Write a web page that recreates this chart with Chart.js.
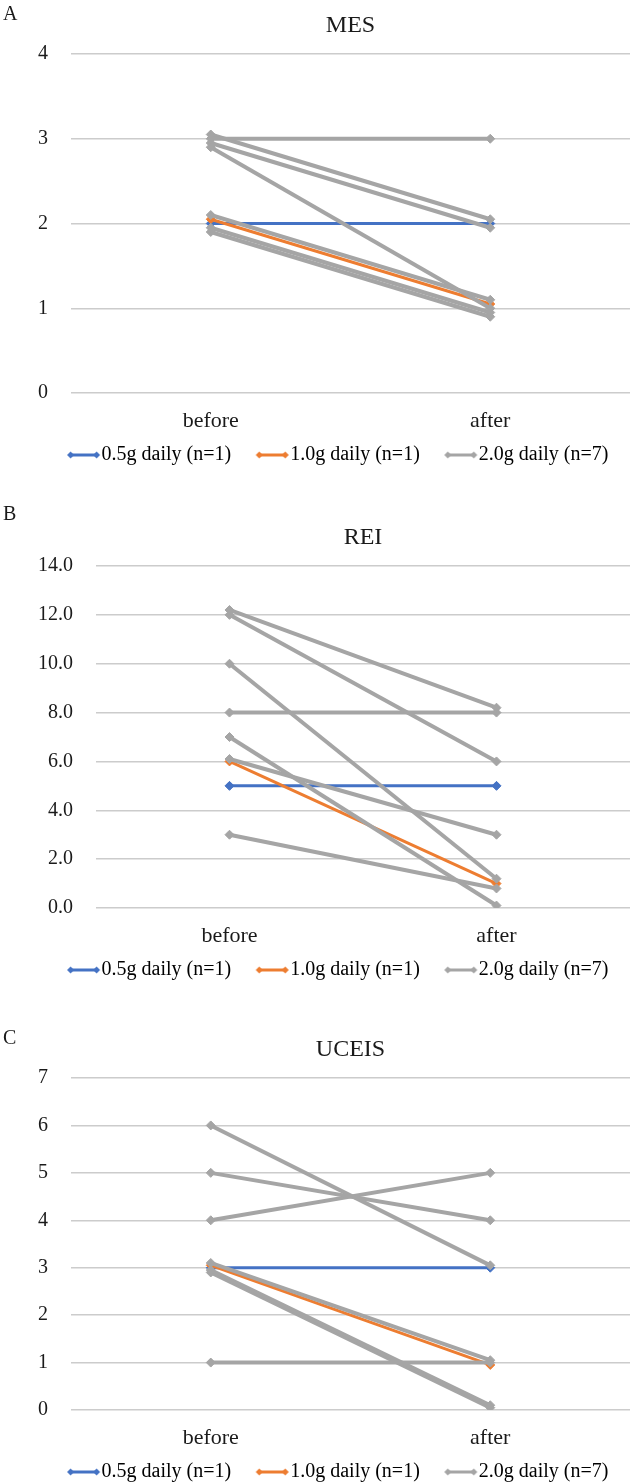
<!DOCTYPE html>
<html>
<head>
<meta charset="utf-8">
<script src="https://cdn.jsdelivr.net/npm/chart.js@4"></script>
<style>
  html, body { margin: 0; padding: 0; background: #fff; overflow: hidden; }
  #page { position: relative; width: 630px; height: 1483px; overflow: hidden; }
  .panel { position: absolute; left: 0; }
  .letter { position: absolute; left: 3px; font: 20px "Liberation Serif", serif; color: #1a1a1a; line-height: 20px; }
</style>
</head>
<body>
<div id="page">
  <canvas id="mes" class="panel" style="top:0px" width="680" height="475"></canvas>
  <canvas id="rei" class="panel" style="top:512px" width="680" height="478"></canvas>
  <canvas id="uceis" class="panel" style="top:1024px" width="680" height="468"></canvas>
  <div class="letter" style="top:3px">A</div>
  <div class="letter" style="top:503px">B</div>
  <div class="letter" style="top:1027px">C</div>
</div>
<script>
const categories = ["before", "after"];
const groupNames = ["0.5g daily (n=1)", "1.0g daily (n=1)", "2.0g daily (n=7)"];
const groupColors = ["#4472C4", "#ED7D31", "#A5A5A5"];

// MES
const mesTicks = [0, 1, 2, 3, 4];
const mes05 = [2, 2];
const mes10 = [2.05, 1.05];
const mes20 = [[3, 3], [3.05, 2.05], [2.95, 1.95], [2.9, 1.0], [2.1, 1.1], [1.95, 0.95], [1.9, 0.9]];

// REI
const reiTicks = [0, 2, 4, 6, 8, 10, 12, 14];
const rei05 = [5, 5];
const rei10 = [6, 1];
const rei20 = [[12.2, 8.2], [12, 6], [10, 1.2], [8, 8], [7, 0.1], [6.1, 3], [3, 0.8]];

// UCEIS
const uceisTicks = [0, 1, 2, 3, 4, 5, 6, 7];
const uceis05 = [3, 3];
const uceis10 = [3.05, 0.95];
const uceis20 = [[6, 3.05], [5, 4], [4, 5], [1, 1], [3.1, 1.05], [2.95, 0.1], [2.9, 0.05]];

const FONT = "'Liberation Serif', 'Times New Roman', serif";
const INK = "#1a1a1a";
const PAD_LEFT = 35;

// line-with-diamonds swatch for the legend (drawn right-shifted so it sits just before the text)
function legendIcon(color) {
  const c = document.createElement("canvas");
  c.width = 54; c.height = 10;
  const g = c.getContext("2d");
  g.strokeStyle = color; g.lineWidth = 3;
  g.beginPath(); g.moveTo(23.5, 5); g.lineTo(49.5, 5); g.stroke();
  g.fillStyle = color;
  [23.5, 49.5].forEach(x => {
    g.beginPath(); g.moveTo(x, 1.5); g.lineTo(x + 3.5, 5); g.lineTo(x, 8.5); g.lineTo(x - 3.5, 5);
    g.closePath(); g.fill();
  });
  return c;
}
const icons = groupColors.map(legendIcon);

function lineSet(label, values, group, width) {
  const color = groupColors[group];
  return {
    label: label,
    data: values,
    borderColor: color,
    backgroundColor: color,
    borderWidth: width,
    pointStyle: "rectRot",
    pointRadius: 4.5,
    pointBackgroundColor: color,
    pointBorderColor: color,
    pointBorderWidth: 1,
    order: 3 - group
  };
}

function makeChart(id, title, ticks, s05, s10, s20, decimals, plotLeft) {
  const datasets = [
    lineSet(groupNames[0], s05, 0, 3),
    lineSet(groupNames[1], s10, 1, 3)
  ];
  s20.forEach((vals, i) => datasets.push(lineSet(groupNames[2] + " #" + (i + 1), vals, 2, 4)));

  return new Chart(document.getElementById(id), {
    type: "line",
    data: { labels: categories, datasets: datasets },
    options: {
      responsive: false,
      animation: false,
      devicePixelRatio: 1,
      layout: { padding: { left: PAD_LEFT, right: 50, top: 0, bottom: 0 } },
      plugins: {
        tooltip: { enabled: false },
        title: {
          display: true,
          fullSize: false,
          text: title,
          color: INK,
          font: { family: FONT, size: 24, weight: "normal", lineHeight: 1.2 },
          padding: { top: 11.6, bottom: 13.6 }
        },
        legend: {
          position: "bottom",
          labels: {
            usePointStyle: true,
            pointStyleWidth: 35,
            padding: 14,
            color: INK,
            font: { family: FONT, size: 20 },
            generateLabels: () => groupNames.map((name, i) => ({
              text: name,
              fillStyle: groupColors[i],
              strokeStyle: groupColors[i],
              lineWidth: 0,
              pointStyle: icons[i],
              hidden: false,
              datasetIndex: i
            }))
          }
        }
      },
      scales: {
        x: {
          offset: true,
          grid: { display: false, drawTicks: false },
          border: { display: false },
          ticks: { color: INK, font: { family: FONT, size: 22 }, padding: 15 },
          afterFit: s => { s.height = 38; }
        },
        y: {
          min: ticks[0],
          max: ticks[ticks.length - 1],
          grid: { color: "#cccccc", lineWidth: 1.5, drawTicks: false },
          border: { display: false },
          afterBuildTicks: s => { s.ticks = ticks.map(v => ({ value: v })); },
          afterFit: s => { s.width = plotLeft - PAD_LEFT; },
          ticks: {
            color: INK,
            padding: 23,
            font: { family: FONT, size: 20 },
            callback: v => Number(v).toFixed(decimals)
          }
        }
      }
    }
  });
}

makeChart("mes", "MES", mesTicks, mes05, mes10, mes20, 0, 71);
makeChart("rei", "REI", reiTicks, rei05, rei10, rei20, 1, 96);
makeChart("uceis", "UCEIS", uceisTicks, uceis05, uceis10, uceis20, 0, 71);
</script>
</body>
</html>
